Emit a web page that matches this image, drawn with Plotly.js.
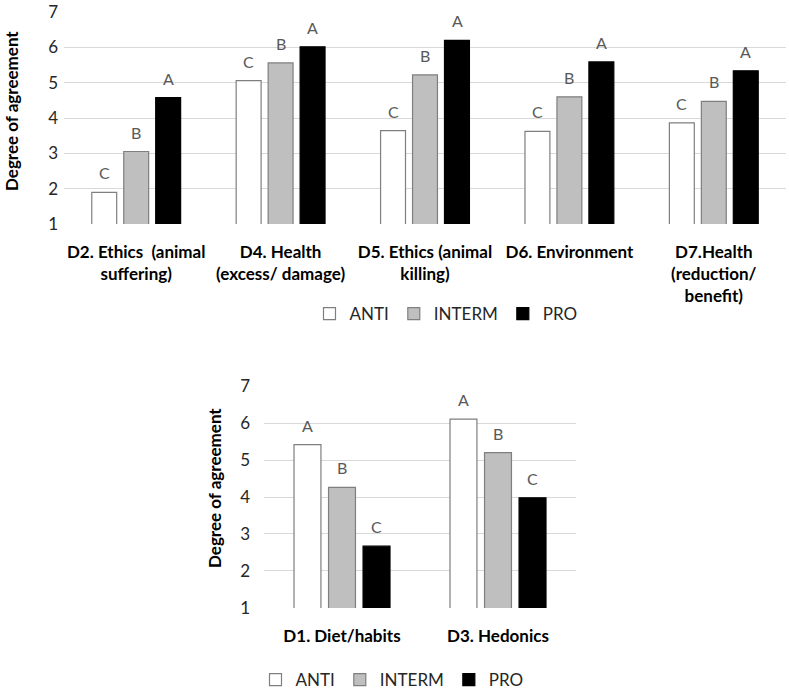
<!DOCTYPE html>
<html>
<head>
<meta charset="utf-8">
<script src="https://cdn.plot.ly/plotly-3.0.1.min.js"></script>
<style>
  html, body { margin: 0; padding: 0; background: #fff; }
  #chart { width: 789px; height: 692px; }
</style>
</head>
<body>
<div id="chart"></div>
<script>
// groups
var groups = ['ANTI', 'INTERM', 'PRO'];
var fillColors = ['#ffffff', '#bfbfbf', '#000000'];
var lineColors = ['#7f7f7f', '#7f7f7f', '#000000'];

// top panel
var topCats = ['D2. Ethics  (animal<br>suffering)', 'D4. Health<br>(excess/ damage)',
               'D5. Ethics (animal<br>killing)', 'D6. Environment',
               'D7.Health<br>(reduction/<br>benefit)'];
var topAnti = [1.89, 5.06, 3.64, 3.62, 3.86];
var topInterm = [3.05, 5.56, 5.22, 4.60, 4.47];
var topPro = [4.58, 6.02, 6.20, 5.59, 5.34];
var topLetters = [['C', 'C', 'C', 'C', 'C'],
                  ['B', 'B', 'B', 'B', 'B'],
                  ['A', 'A', 'A', 'A', 'A']];

// bottom panel
var botCats = ['D1. Diet/habits', 'D3. Hedonics'];
var botAnti = [5.42, 6.11];
var botInterm = [4.26, 5.20];
var botPro = [2.67, 3.98];
var botLetters = [['A', 'A'], ['B', 'B'], ['C', 'C']];

var yTicks = [1, 2, 3, 4, 5, 6, 7];
var yTitle = 'Degree of agreement';

var FONT = 'Lato, "Open Sans", sans-serif';
var W = 789, H = 692;

var topVals = [topAnti, topInterm, topPro];
var botVals = [botAnti, botInterm, botPro];

var data = [];
for (var i = 0; i < groups.length; i++) {
  data.push({
    type: 'bar', name: groups[i], x: topCats, y: topVals[i],
    xaxis: 'x', yaxis: 'y', legend: 'legend',
    marker: {color: fillColors[i], line: {color: lineColors[i], width: 1.2}},
    hoverinfo: 'none'
  });
}
for (var i = 0; i < groups.length; i++) {
  data.push({
    type: 'bar', name: groups[i], x: botCats, y: botVals[i],
    xaxis: 'x2', yaxis: 'y2', legend: 'legend2',
    marker: {color: fillColors[i], line: {color: lineColors[i], width: 1.2}},
    hoverinfo: 'none'
  });
}

// letters above bars
var annotations = [];
var topShift = [-32, 0, 32];
var botShift = [-34.5, 0, 34.5];
for (var i = 0; i < groups.length; i++) {
  for (var j = 0; j < topCats.length; j++) {
    annotations.push({
      xref: 'x', yref: 'y', x: topCats[j], y: topVals[i][j],
      text: topLetters[i][j], showarrow: false,
      xshift: topShift[i], yshift: 8, yanchor: 'bottom',
      font: {family: FONT, size: 16, color: '#595959'}
    });
  }
  for (var j = 0; j < botCats.length; j++) {
    annotations.push({
      xref: 'x2', yref: 'y2', x: botCats[j], y: botVals[i][j],
      text: botLetters[i][j], showarrow: false,
      xshift: botShift[i], yshift: 8, yanchor: 'bottom',
      font: {family: FONT, size: 16, color: '#595959'}
    });
  }
}
// y axis titles
annotations.push({
  xref: 'paper', yref: 'paper', x: 12 / W, y: 1 - 111 / H, textangle: -90,
  xanchor: 'center', yanchor: 'middle',
  text: '<b>' + yTitle + '</b>', showarrow: false,
  font: {family: FONT, size: 17, color: '#000000'}
});
annotations.push({
  xref: 'paper', yref: 'paper', x: 214 / W, y: 1 - 488 / H, textangle: -90,
  xanchor: 'center', yanchor: 'middle',
  text: '<b>' + yTitle + '</b>', showarrow: false,
  font: {family: FONT, size: 17, color: '#000000'}
});

function yAxis(domain, anchor, standoff) {
  return {
    domain: domain, anchor: anchor, range: [0.995, 7.005],
    tickvals: yTicks, showgrid: true, gridcolor: '#d9d9d9', gridwidth: 1,
    zeroline: false, showline: false, ticks: '',
    ticklabelstandoff: standoff, ticklabeloverflow: 'allow',
    tickfont: {family: FONT, size: 17, color: '#262626'}
  };
}
function xAxis(domain, anchor) {
  return {
    domain: domain, anchor: anchor, type: 'category',
    showgrid: false, zeroline: false, showline: false, ticks: '',
    ticklabelstandoff: 16,
    tickfont: {family: FONT, size: 17, color: '#000000', weight: 'bold'}
  };
}

var layout = {
  width: W, height: H,
  margin: {l: 0, r: 0, t: 0, b: 0, autoexpand: false},
  paper_bgcolor: '#ffffff', plot_bgcolor: '#ffffff',
  barmode: 'group', bargap: 0.336, bargroupgap: 0.22,
  showlegend: true,
  xaxis: xAxis([64 / W, 786 / W], 'y'),
  yaxis: yAxis([1 - 224 / H, 1 - 12 / H], 'x', 5),
  xaxis2: xAxis([264 / W, 576 / W], 'y2'),
  yaxis2: yAxis([1 - 608 / H, 1 - 386 / H], 'x2', 13),
  legend: {
    orientation: 'h', x: 446 / W, xanchor: 'center', y: 1 - 314 / H, yanchor: 'middle',
    font: {family: FONT, size: 17, color: '#262626'}, itemwidth: 30
  },
  legend2: {
    orientation: 'h', x: 392 / W, xanchor: 'center', y: 1 - 680 / H, yanchor: 'middle',
    font: {family: FONT, size: 17, color: '#262626'}, itemwidth: 30
  },
  annotations: annotations
};

Plotly.newPlot('chart', data, layout, {displayModeBar: false, staticPlot: true});
</script>
</body>
</html>
